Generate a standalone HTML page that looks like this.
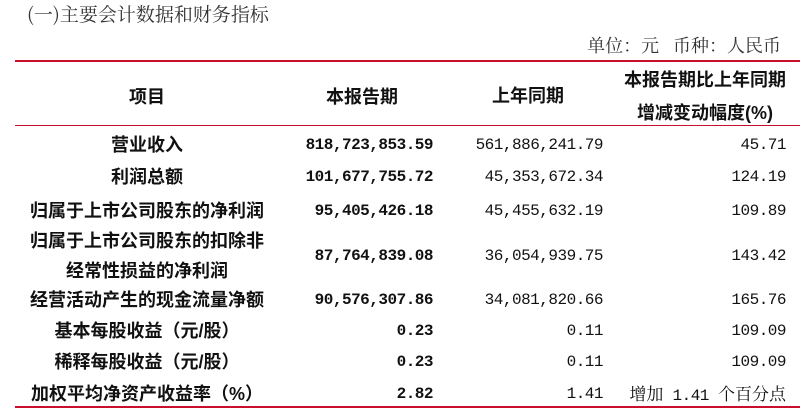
<!DOCTYPE html>
<html><head><meta charset="utf-8"><style>
body{margin:0;width:800px;height:411px;background:#fff;position:relative;overflow:hidden;font-family:"Liberation Sans","Noto Sans CJK SC",sans-serif;color:#111}
.t{position:absolute;white-space:nowrap;line-height:1;font-size:18px}
.c{transform:translate(-50%,-50%)}
.r{transform:translate(-100%,-50%)}
.b{font-weight:700}
.n{font-family:"Liberation Mono","Noto Serif CJK SC",monospace;font-size:16px;letter-spacing:-0.5px}
.s{font-family:"Noto Serif CJK SC",serif}
.ln{position:absolute;left:15px;right:0;background:#c8102e}
</style></head><body>
<div class="t s" style="left:27px;top:4px;font-size:19px;color:#333">(一)主要会计数据和财务指标</div>
<div class="t s r" style="left:781px;top:45px;color:#333">单位：元&nbsp;&nbsp;&nbsp;币种：人民币</div>
<div class="ln" style="top:60px;height:2px"></div>
<div class="ln" style="top:125px;height:1px"></div>
<div class="ln" style="top:406px;height:2px"></div>

<div class="t c b" style="left:147px;top:97px">项目</div>
<div class="t c b" style="left:362px;top:97px">本报告期</div>
<div class="t c b" style="left:528px;top:96px">上年同期</div>
<div class="t c b" style="left:705px;top:80px">本报告期比上年同期</div>
<div class="t c b" style="left:705px;top:113px">增减变动幅度(%)</div>

<div class="t c b" style="left:147px;top:145px">营业收入</div>
<div class="t c b" style="left:147px;top:177px">利润总额</div>
<div class="t c b" style="left:147px;top:211px">归属于上市公司股东的净利润</div>
<div class="t c b" style="left:147px;top:241px">归属于上市公司股东的扣除非</div>
<div class="t c b" style="left:147px;top:271px">经常性损益的净利润</div>
<div class="t c b" style="left:147px;top:300px">经营活动产生的现金流量净额</div>
<div class="t c b" style="left:147px;top:331px">基本每股收益（元/股）</div>
<div class="t c b" style="left:147px;top:362px">稀释每股收益（元/股）</div>
<div class="t c b" style="left:147px;top:394px">加权平均净资产收益率（%）</div>

<div class="t r n b" style="left:433px;top:145px">818,723,853.59</div>
<div class="t r n b" style="left:433px;top:177px">101,677,755.72</div>
<div class="t r n b" style="left:433px;top:211px">95,405,426.18</div>
<div class="t r n b" style="left:433px;top:256px">87,764,839.08</div>
<div class="t r n b" style="left:433px;top:300px">90,576,307.86</div>
<div class="t r n b" style="left:433px;top:331px">0.23</div>
<div class="t r n b" style="left:433px;top:362px">0.23</div>
<div class="t r n b" style="left:433px;top:394px">2.82</div>

<div class="t r n" style="left:603px;top:145px">561,886,241.79</div>
<div class="t r n" style="left:603px;top:177px">45,353,672.34</div>
<div class="t r n" style="left:603px;top:211px">45,455,632.19</div>
<div class="t r n" style="left:603px;top:256px">36,054,939.75</div>
<div class="t r n" style="left:603px;top:300px">34,081,820.66</div>
<div class="t r n" style="left:603px;top:331px">0.11</div>
<div class="t r n" style="left:603px;top:362px">0.11</div>
<div class="t r n" style="left:603px;top:394px">1.41</div>

<div class="t r n" style="left:786px;top:145px">45.71</div>
<div class="t r n" style="left:786px;top:177px">124.19</div>
<div class="t r n" style="left:786px;top:211px">109.89</div>
<div class="t r n" style="left:786px;top:256px">143.42</div>
<div class="t r n" style="left:786px;top:300px">165.76</div>
<div class="t r n" style="left:786px;top:331px">109.09</div>
<div class="t r n" style="left:786px;top:362px">109.09</div>
<div class="t r s" style="left:786px;top:394px;font-size:17px">增加<span class="n" style="font-size:16px"> 1.41 </span>个百分点</div>
</body></html>
